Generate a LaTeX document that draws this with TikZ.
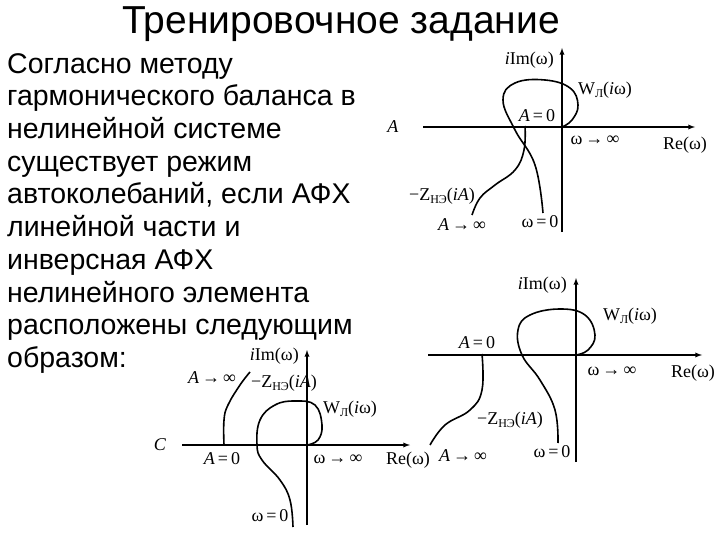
\documentclass[tikz,border=0pt]{standalone}
\usepackage{fontspec}
\setmainfont{Liberation Sans}
\newfontfamily\lser{Liberation Serif}
\newcommand{\sbs}[1]{\raisebox{-0.4ex}{\fontsize{12}{12}\selectfont #1}}
\begin{document}
\begin{tikzpicture}[x=1pt,y=-1pt,
  ax/.style={line width=1.3pt,-latex},
  cv/.style={line width=1.6pt},
  lb/.style={font=\lser\fontsize{18}{19}\selectfont,inner sep=1pt}]
\useasboundingbox (0,0) rectangle (720,540);
\node[font=\fontsize{39}{42}\selectfont] (title) at (341,24) {Тренировочное задание};
\node[anchor=north west,align=left,inner sep=0pt,font=\fontsize{28.5}{32.7}\selectfont] (txt) at (7,53) {Согласно методу\\гармонического баланса в\\нелинейной системе\\существует режим\\автоколебаний, если АФХ\\линейной части и\\инверсная АФХ\\нелинейного элемента\\расположены следующим\\образом:};
% diagram 1
\draw[ax] (423,127) -- (695,127);
\draw[ax] (562,232) -- (562,48);
\draw[cv] plot[smooth,tension=0.7] coordinates {(543,213) (535,165) (515,130) (503,100) (515,83) (545,80) (570,88) (578,105) (572,120) (562,127)};
\draw[cv] plot[smooth,tension=0.7] coordinates {(525,126) (524,150) (515,170) (495,185) (480,198) (472,215)};
\node[lb,anchor=east] (a1) at (555,60) {\textit{i}Im(ω)};
\node[lb] (a2) at (393,127) {\textit{A}};
\node[lb] (a3) at (685,145) {Re(ω)};
\node[lb] (a4) at (595,140) {ω\,→\,∞};
\node[lb] (a5) at (537,116) {\textit{A}\,=\,0};
\node[lb] (a6) at (605,90) {W\sbs{Л}(\textit{i}ω)};
\node[lb] (a7) at (442,196) {−Z\sbs{НЭ}(\textit{iA})};
\node[lb] (a8) at (462,225) {\textit{A}\,→\,∞};
\node[lb] (a9) at (540,222) {ω\,=\,0};
% diagram 2
\draw[ax] (428,355) -- (702,355);
\draw[ax] (576,462) -- (576,278);
\draw[cv] plot[smooth,tension=0.7] coordinates {(558,443) (555,410) (540,380) (522,355) (518,330) (530,315) (560,309) (585,315) (595,335) (588,350) (576,355)};
\draw[cv] plot[smooth,tension=0.7] coordinates {(482,354) (482,390) (470,410) (445,425) (430,445)};
\node[lb,anchor=east] (b1) at (568,285) {\textit{i}Im(ω)};
\node[lb] (b2) at (630,316) {W\sbs{Л}(\textit{i}ω)};
\node[lb] (b3) at (477,343) {\textit{A}\,=\,0};
\node[lb] (b4) at (612,371) {ω\,→\,∞};
\node[lb] (b5) at (693,373) {Re(ω)};
\node[lb] (b6) at (510,420) {−Z\sbs{НЭ}(\textit{iA})};
\node[lb] (b7) at (463,456) {\textit{A}\,→\,∞};
\node[lb] (b8) at (552,452) {ω\,=\,0};
% diagram 3
\draw[ax] (182,445) -- (410,445);
\draw[ax] (307,525) -- (307,350);
\draw[cv] plot[smooth,tension=0.7] coordinates {(293,527) (290,500) (280,480) (262,460) (257,445) (260,420) (275,405) (295,401) (315,405) (322,425) (318,440) (307,445)};
\draw[cv] plot[smooth,tension=0.7] coordinates {(224,445) (224,420) (228,405) (240,385) (250,372)};
\node[lb,anchor=east] (c1) at (300,356) {\textit{i}Im(ω)};
\node[lb] (c2) at (212,378) {\textit{A}\,→\,∞};
\node[lb] (c3) at (284,383) {−Z\sbs{НЭ}(\textit{iA})};
\node[lb] (c4) at (350,409) {W\sbs{Л}(\textit{i}ω)};
\node[lb] (c5) at (160,445) {\textit{C}};
\node[lb] (c6) at (222,459) {\textit{A}\,=\,0};
\node[lb] (c7) at (338,459) {ω\,→\,∞};
\node[lb] (c8) at (408,460) {Re(ω)};
\node[lb] (c9) at (270,516) {ω\,=\,0};
\end{tikzpicture}
\end{document}
